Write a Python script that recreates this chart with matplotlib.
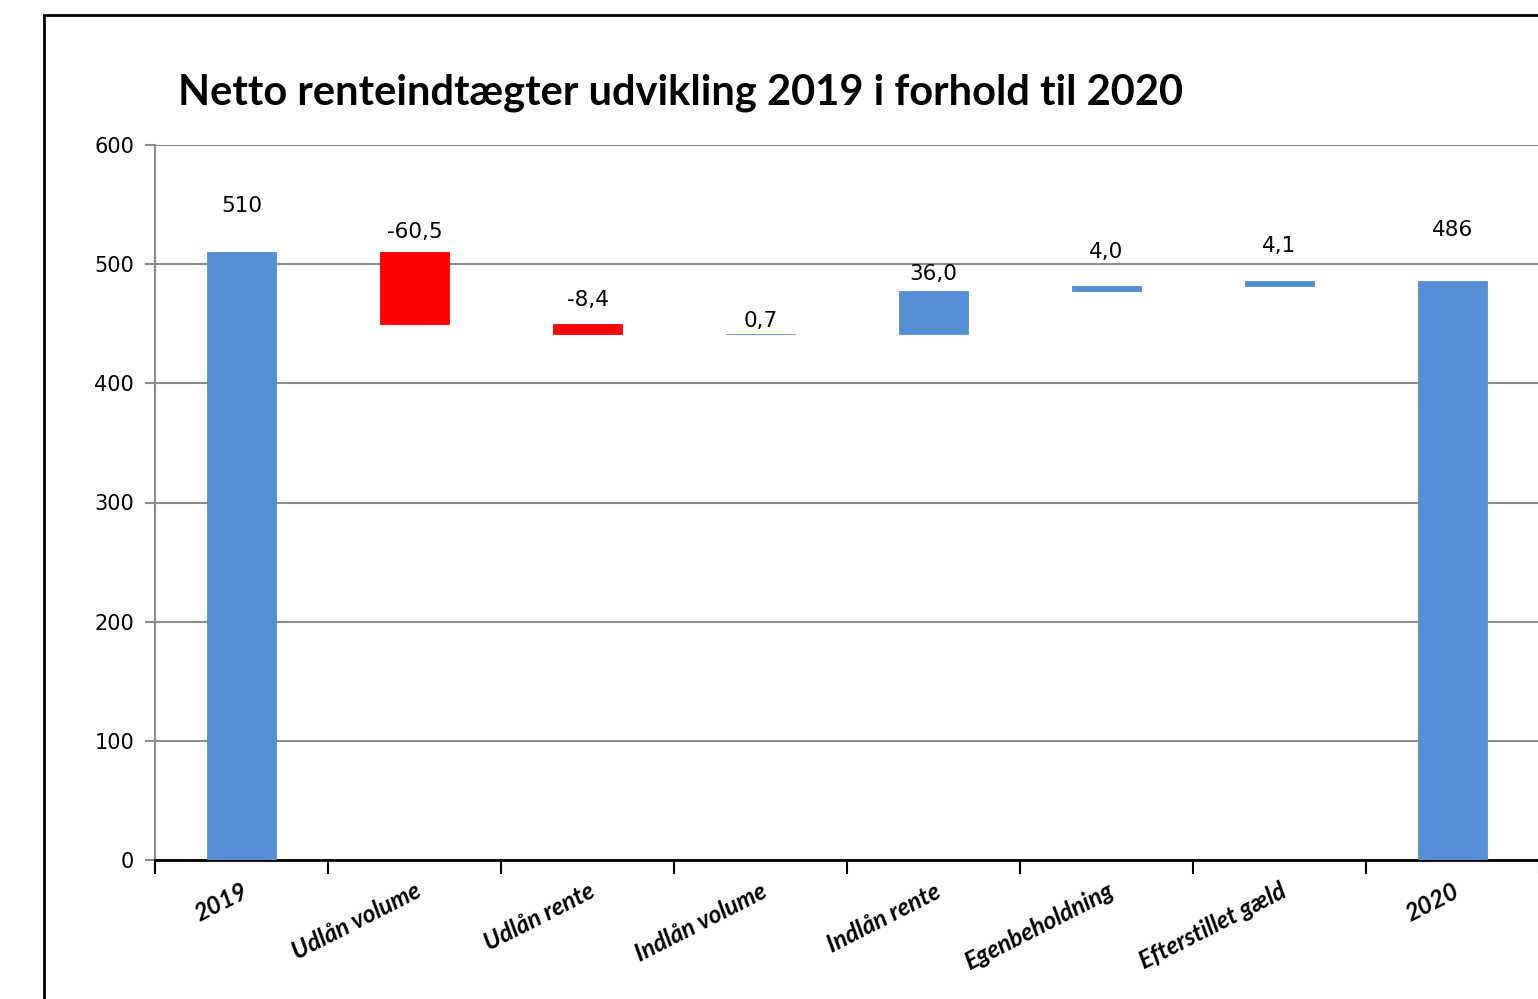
import numpy as np
import matplotlib.pyplot as plt
from matplotlib.patches import Rectangle

# data
categories = ['2019', 'Udlån volume', 'Udlån rente', 'Indlån volume',
              'Indlån rente', 'Egenbeholdning', 'Efterstillet gæld', '2020']
start_value = 510.0
changes = [-60.5, -8.4, 0.7, 36.0, 4.0, 4.1]
end_value = 486.0
value_labels = ['510', '-60,5', '-8,4', '0,7', '36,0', '4,0', '4,1', '486']

# label offset above bar top, in pixels (Excel places them somewhat irregularly)
label_offsets = [46, 20, 24, 13, 17, 34, 35, 51]

blue = '#558ED5'
red = '#FF0000'

# waterfall geometry
bottoms = [0.0]
heights = [start_value]
colors = [blue]
level = start_value
for c in changes:
    new = level + c
    bottoms.append(min(level, new))
    heights.append(abs(c))
    colors.append(red if c < 0 else blue)
    level = new
bottoms.append(0.0)
heights.append(end_value)
colors.append(blue)

fig = plt.figure(figsize=(15.38, 9.99), dpi=100)
ax = fig.add_axes([155 / 1538, 1 - 860 / 999, 1384 / 1538, (860 - 145) / 999])

x = np.arange(len(categories))
ax.bar(x, heights, bottom=bottoms, width=0.4, color=colors,
       edgecolor=colors, linewidth=0.6, zorder=3)

ax.set_xlim(-0.5, len(categories) - 0.5)
ax.set_ylim(0, 600)
ax.set_yticks(range(0, 601, 100))
ax.yaxis.grid(True, color='#8c8c8c', linewidth=1.5, zorder=0)
ax.tick_params(axis='y', labelsize=15, length=7, color='#8c8c8c', width=1.5, pad=8)

ax.set_xticks(x)
ax.set_xticklabels(categories, rotation=27, ha='right', va='top',
                   rotation_mode='anchor', fontfamily='Lato',
                   fontweight='bold', fontstyle='italic', fontsize=17.5)
ax.tick_params(axis='x', which='major', length=0, pad=14)
ax.set_xticks(np.arange(-0.5, len(categories)), minor=True)
ax.tick_params(axis='x', which='minor', length=10, width=1.5, color='black')

for s in ['top', 'right']:
    ax.spines[s].set_visible(False)
ax.spines['left'].set_color('#8c8c8c')
ax.spines['left'].set_linewidth(1.5)
ax.spines['bottom'].set_color('black')
ax.spines['bottom'].set_linewidth(2)

for i, (b, h, lab) in enumerate(zip(bottoms, heights, value_labels)):
    ax.annotate(lab, (x[i], b + h), xytext=(0, label_offsets[i] * 0.72),
                textcoords='offset points', ha='center', va='center',
                fontsize=15.5, fontfamily='DejaVu Sans')

fig.text(178 / 1538, 1 - 93 / 999, 'Netto renteindtægter udvikling 2019 i forhold til 2020',
         fontsize=30, fontweight='bold', fontfamily='Lato', va='center', ha='left')

fig.patches.append(Rectangle((44 / 1538, -0.1), 1.2, 1 - 15 / 999 + 0.1,
                             transform=fig.transFigure, fill=False,
                             edgecolor='black', linewidth=2))

fig.savefig('out.png', dpi=100)
